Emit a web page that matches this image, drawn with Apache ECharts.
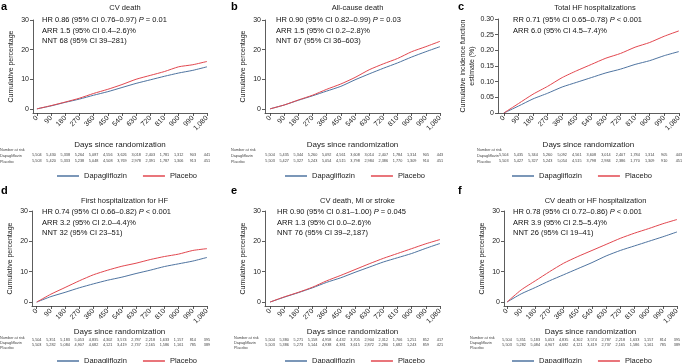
<!DOCTYPE html>
<html>
<head>
<meta charset="utf-8">
<script src="https://cdn.jsdelivr.net/npm/echarts@6/dist/echarts.min.js"></script>
<style>
  html, body { margin: 0; padding: 0; background: #fff; }
  #main { width: 685px; height: 363px; }
</style>
</head>
<body>
<div id="main"></div>
<script>
// days since randomization (ticks + sample points)
var days = [0, 90, 180, 270, 360, 450, 540, 630, 720, 810, 900, 990, 1080];

// cumulative curves
var cvDeathDapa = [0, 1.0, 2.2, 3.3, 4.6, 5.8, 7.2, 8.6, 9.8, 11.0, 12.1, 13.0, 14.2];
var cvDeathPlacebo = [0, 1.1, 2.3, 3.6, 5.2, 6.6, 8.2, 10.0, 11.3, 12.6, 14.2, 14.9, 16.0];
var allDeathDapa = [0, 1.3, 2.9, 4.4, 6.0, 7.6, 9.8, 11.8, 13.7, 15.5, 17.5, 19.3, 21.0];
var allDeathPlacebo = [0, 1.3, 3.0, 4.6, 6.6, 8.4, 10.6, 13.2, 15.2, 17.0, 19.3, 21.0, 22.8];
var totalHfDapa = [0, 0.022, 0.045, 0.063, 0.083, 0.098, 0.113, 0.128, 0.140, 0.155, 0.167, 0.183, 0.196];
var totalHfPlacebo = [0, 0.030, 0.060, 0.085, 0.113, 0.135, 0.155, 0.175, 0.190, 0.210, 0.225, 0.245, 0.262];
var firstHfDapa = [0, 1.8, 3.2, 4.7, 6.0, 7.2, 8.2, 9.4, 10.5, 11.7, 12.6, 13.5, 14.7];
var firstHfPlacebo = [0, 2.6, 4.8, 7.0, 9.0, 10.5, 11.8, 12.8, 14.0, 15.0, 15.8, 17.0, 17.6];
var maceDapa = [0, 1.6, 3.1, 4.7, 6.5, 8.0, 9.8, 11.5, 13.2, 14.6, 16.0, 17.7, 19.3];
var macePlacebo = [0, 1.7, 3.2, 4.9, 7.0, 8.8, 10.7, 12.6, 14.4, 16.0, 17.6, 19.2, 20.6];
var cvHfDapa = [0, 2.7, 4.8, 7.0, 9.0, 11.0, 13.0, 15.2, 17.0, 18.5, 20.0, 21.5, 23.1];
var cvHfPlacebo = [0, 4.0, 7.0, 10.0, 12.8, 15.0, 17.0, 19.0, 21.0, 22.7, 24.2, 25.8, 27.2];

// number at risk
var riskA_dapa = [5504, 5430, 5338, 5264, 5087, 4556, 3626, 3018, 2403, 1781, 1312, 903, 441];
var riskA_placebo = [5503, 5420, 5333, 5238, 5048, 4508, 3769, 2978, 2391, 1787, 1306, 913, 451];
var riskB_dapa = [5504, 5435, 5344, 5260, 5092, 4561, 3608, 3014, 2407, 1784, 1314, 905, 443];
var riskB_placebo = [5503, 5427, 5327, 5243, 5054, 4515, 3798, 2984, 2386, 1770, 1309, 910, 451];
var riskD_dapa = [5504, 5351, 5183, 5053, 4835, 4302, 3574, 2787, 2218, 1633, 1157, 814, 395];
var riskD_placebo = [5503, 5282, 5084, 4907, 4682, 4121, 3419, 2737, 2165, 1586, 1161, 785, 389];
var riskE_dapa = [5504, 5380, 5271, 5158, 4958, 4432, 3705, 2904, 2312, 1706, 1251, 852, 417];
var riskE_placebo = [5503, 5386, 5273, 5144, 4938, 4381, 3615, 2872, 2280, 1682, 1243, 859, 421];

var pctTicks = [0, 10, 20, 30];
var cifTicks = [0, 0.05, 0.10, 0.15, 0.20, 0.25, 0.30];

var letters = ['a', 'b', 'c', 'd', 'e', 'f'];
var titles = ['CV death', 'All-cause death', 'Total HF hospitalizations',
  'First hospitalization for HF', 'CV death, MI or stroke', 'CV death or HF hospitalization'];
var notes = [
  ['HR 0.86 (95% CI 0.76–0.97) {i|P} = 0.01', 'ARR 1.5 (95% CI 0.4–2.6)%', 'NNT 68 (95% CI 39–281)'],
  ['HR 0.90 (95% CI 0.82–0.99) {i|P} = 0.03', 'ARR 1.5 (95% CI 0.2–2.8)%', 'NNT 67 (95% CI 36–603)'],
  ['RR 0.71 (95% CI 0.65–0.78) {i|P} < 0.001', 'ARR 6.0 (95% CI 4.5–7.4)%'],
  ['HR 0.74 (95% CI 0.66–0.82) {i|P} < 0.001', 'ARR 3.2 (95% CI 2.0–4.4)%', 'NNT 32 (95% CI 23–51)'],
  ['HR 0.90 (95% CI 0.81–1.00) {i|P} = 0.045', 'ARR 1.3 (95% CI 0.0–2.6)%', 'NNT 76 (95% CI 39–2,187)'],
  ['HR 0.78 (95% CI 0.72–0.86) {i|P} < 0.001', 'ARR 3.9 (95% CI 2.5–5.4)%', 'NNT 26 (95% CI 19–41)']
];

var panels = [
  {left: 33, top: 20, width: 174, height: 93, xMin: -25, yMin: -1.4, yMax: 30, ticks: pctTicks,
   dapa: cvDeathDapa, placebo: cvDeathPlacebo, rd: riskA_dapa, rp: riskA_placebo,
   ox: 0, oy: 0, noteX: 42, labX: 0, yName: 'Cumulative percentage', yGap: 17},
  {left: 265, top: 20, width: 175, height: 93, xMin: -32, yMin: -1.4, yMax: 30, ticks: pctTicks,
   dapa: allDeathDapa, placebo: allDeathPlacebo, rd: riskB_dapa, rp: riskB_placebo,
   ox: 228, oy: 0, noteX: 276, labX: 231, yName: 'Cumulative percentage', yGap: 17},
  {left: 498, top: 19, width: 184, height: 94, xMin: -36, yMin: 0, yMax: 0.30, ticks: cifTicks,
   dapa: totalHfDapa, placebo: totalHfPlacebo, rd: riskB_dapa, rp: riskB_placebo,
   ox: 455, oy: 0, noteX: 513, labX: 477, yName: 'Cumulative incidence function\nestimate (%)', yGap: 20},
  {left: 32, top: 211, width: 175, height: 95, xMin: -30, yMin: -1.3, yMax: 30, ticks: pctTicks,
   dapa: firstHfDapa, placebo: firstHfPlacebo, rd: riskD_dapa, rp: riskD_placebo,
   ox: 0, oy: 180, noteX: 42, labX: 0, yName: 'Cumulative percentage', yGap: 17},
  {left: 265, top: 211, width: 175, height: 95, xMin: -32, yMin: -1.3, yMax: 30, ticks: pctTicks,
   dapa: maceDapa, placebo: macePlacebo, rd: riskE_dapa, rp: riskE_placebo,
   ox: 228, oy: 180, noteX: 277, labX: 234, yName: 'Cumulative percentage', yGap: 17},
  {left: 504, top: 211, width: 173, height: 95, xMin: -19, yMin: -1.3, yMax: 30, ticks: pctTicks,
   dapa: cvHfDapa, placebo: cvHfPlacebo, rd: riskD_dapa, rp: riskD_placebo,
   ox: 455, oy: 180, noteX: 513, labX: 470, yName: 'Cumulative percentage', yGap: 17}
];

// per-row layout: top row has a looser risk table than the bottom row
var rows = [
  {nameGap: 28, riskOff: [40, 46], riskTop: 35, legendTop: 167},
  {nameGap: 22, riskOff: [32, 37], riskTop: 30, legendTop: 352}
];

var FONT = '"Liberation Sans", Arial, sans-serif';
var BLUE = '#4f74a0';
var RED = '#e2474f';
var AXIS = '#333';

function fmt(v) { return Number(v).toLocaleString('en-US'); }
function pairs(xs, ys) { return xs.map(function (x, i) { return [x, ys[i]]; }); }

var grid = [], xAxis = [], yAxis = [], series = [], legend = [], graphic = [];

panels.forEach(function (p, i) {
  var row = rows[i < 3 ? 0 : 1];
  grid.push({left: p.left, top: p.top, width: p.width, height: p.height});

  xAxis.push({
    gridIndex: i, type: 'value', min: p.xMin, max: 1080,
    axisLine: {show: true, onZero: false, lineStyle: {color: AXIS, width: 0.8}},
    axisTick: {show: true, customValues: days, length: 3, lineStyle: {color: AXIS, width: 0.8}},
    axisLabel: {customValues: days, rotate: 45, fontSize: 7, margin: 4, color: '#222', fontFamily: FONT,
      formatter: function (v) { return fmt(v); }},
    splitLine: {show: false},
    name: 'Days since randomization', nameLocation: 'middle', nameGap: row.nameGap,
    nameTextStyle: {fontSize: 8, color: '#222', fontFamily: FONT}
  });
  [p.rd, p.rp].forEach(function (arr, k) {
    xAxis.push({
      gridIndex: i, type: 'value', min: p.xMin, max: 1080, position: 'bottom', offset: row.riskOff[k],
      axisLine: {show: false}, axisTick: {show: false}, splitLine: {show: false},
      axisLabel: {customValues: days, fontSize: 3.8, margin: 0, color: '#444', fontFamily: FONT,
        formatter: function (v) { return fmt(arr[days.indexOf(v)]); }}
    });
  });

  yAxis.push({
    gridIndex: i, type: 'value', min: p.yMin, max: p.yMax,
    axisLine: {show: true, onZero: false, lineStyle: {color: AXIS, width: 0.8}},
    axisTick: {show: true, customValues: p.ticks, length: 3, lineStyle: {color: AXIS, width: 0.8}},
    axisLabel: {customValues: p.ticks, fontSize: 7, margin: 4, color: '#222', fontFamily: FONT,
      formatter: function (v) { return p.yMax < 1 ? (v === 0 ? '0' : v.toFixed(2)) : String(v); }},
    splitLine: {show: false},
    name: p.yName, nameLocation: 'middle', nameGap: p.yGap,
    nameTextStyle: {fontSize: 7, color: '#222', fontFamily: FONT, lineHeight: 9}
  });

  series.push({
    name: 'Dapagliflozin', type: 'line', xAxisIndex: i * 3, yAxisIndex: i,
    data: pairs(days, p.dapa), showSymbol: false, smooth: 0.2,
    lineStyle: {color: BLUE, width: 1}, itemStyle: {color: BLUE}
  });
  series.push({
    name: 'Placebo', type: 'line', xAxisIndex: i * 3, yAxisIndex: i,
    data: pairs(days, p.placebo), showSymbol: false, smooth: 0.2,
    lineStyle: {color: RED, width: 1}, itemStyle: {color: RED}
  });

  legend.push({
    left: p.ox + 52, top: row.legendTop, icon: 'rect', itemWidth: 22, itemHeight: 1.5, itemGap: 16,
    textStyle: {fontSize: 7.5, color: '#222', fontFamily: FONT},
    data: ['Dapagliflozin', 'Placebo'], selectedMode: false
  });

  graphic.push({type: 'text', left: p.ox + (i % 3 === 0 ? 1 : 3), top: p.oy + (i < 3 ? 1 : 5),
    style: {text: letters[i], font: 'bold 11px ' + FONT, fill: '#000'}});
  graphic.push({type: 'text', x: p.left + p.width / 2 + 5, y: p.oy + (i < 3 ? 4 : 17),
    style: {text: titles[i], font: '7.5px ' + FONT, fill: '#222', textAlign: 'center'}});
  notes[i].forEach(function (line, k) {
    graphic.push({type: 'text', x: p.noteX, y: p.oy + (i < 3 ? 16 : 28) + k * 10.5,
      style: {text: line, font: '7.5px ' + FONT, fill: '#111',
        rich: {i: {fontStyle: 'italic', fontSize: 7.5, fontFamily: FONT, fill: '#111'}}}});
  });
  var riskTop = p.top + p.height + row.riskTop;
  var step = row.riskOff[1] - row.riskOff[0];
  [['Number at risk', 0], ['Dapagliflozin', 1], ['Placebo', 2]].forEach(function (r) {
    graphic.push({type: 'text', x: p.labX, y: riskTop + r[1] * step,
      style: {text: r[0], font: '3.8px ' + FONT, fill: '#444'}});
  });
});

var chart = echarts.init(document.getElementById('main'));
chart.setOption({
  backgroundColor: '#fff',
  animation: false,
  textStyle: {fontFamily: FONT},
  grid: grid,
  xAxis: xAxis,
  yAxis: yAxis,
  legend: legend,
  series: series,
  graphic: graphic
});
</script>
</body>
</html>
